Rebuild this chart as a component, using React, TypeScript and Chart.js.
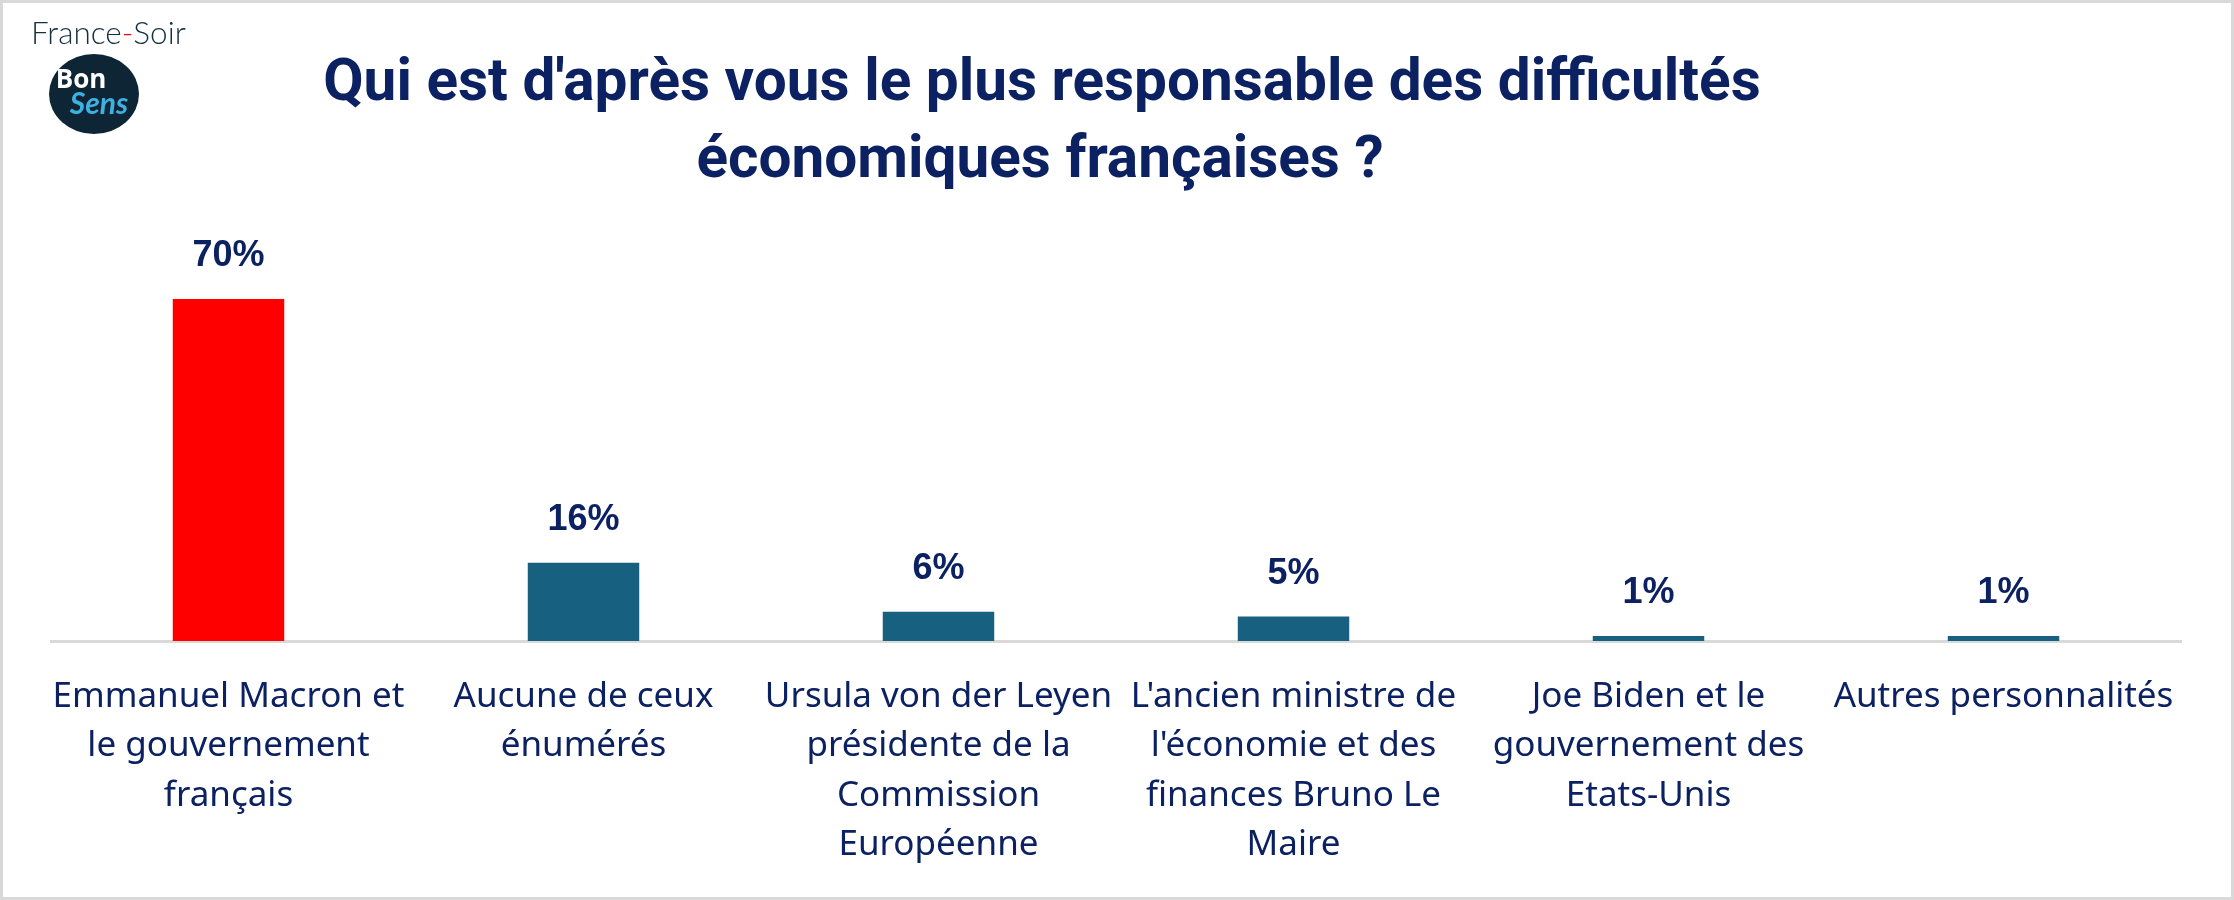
import React, { useEffect, useRef } from "react";
import { Chart, registerables } from "chart.js";

Chart.register(...registerables);

const categories: string[][] = [
  ["Emmanuel Macron et", "le gouvernement", "français"],
  ["Aucune de ceux", "énumérés"],
  ["Ursula von der Leyen", "présidente de la", "Commission", "Européenne"],
  ["L'ancien ministre de", "l'économie et des", "finances Bruno Le", "Maire"],
  ["Joe Biden et le", "gouvernement des", "Etats-Unis"],
  ["Autres personnalités"],
];
const values: number[] = [70, 16, 6, 5, 1, 1];
const barColors: string[] = ["#ff0000", "#17607f", "#17607f", "#17607f", "#17607f", "#17607f"];
const titleLines: string[] = [
  "Qui est d'après vous le plus responsable des difficultés",
  "économiques françaises ?",
];
const NAVY = "#0b2161";

export default function App() {
  const ref = useRef<HTMLCanvasElement>(null);

  useEffect(() => {
    const canvas = ref.current;
    if (!canvas) return;

    const decor = {
      id: "decor",
      beforeDraw(chart: any) {
        const ctx = chart.ctx;
        ctx.save();
        ctx.fillStyle = "#ffffff";
        ctx.fillRect(0, 0, chart.width, chart.height);
        ctx.restore();
      },
      afterDraw(chart: any) {
        const ctx = chart.ctx;
        ctx.save();
        // frame
        ctx.strokeStyle = "#d9d9d9";
        ctx.lineWidth = 3;
        ctx.strokeRect(1.5, 1.5, chart.width - 3, chart.height - 3);

        // title
        ctx.fillStyle = NAVY;
        ctx.font = "bold 58.5px Roboto, 'Liberation Sans', sans-serif";
        ctx.textAlign = "center";
        ctx.textBaseline = "alphabetic";
        ctx.fillText(titleLines[0], 1042, 100);
        ctx.fillText(titleLines[1], 1040, 177);

        // logo: France-Soir
        ctx.textAlign = "left";
        ctx.font = "300 31.5px Lato, 'Open Sans', sans-serif";
        let x = 31;
        const y = 44;
        ctx.fillStyle = "#15303f";
        ctx.fillText("France", x, y);
        x += ctx.measureText("France").width;
        ctx.fillStyle = "#e30613";
        ctx.fillText("-", x, y);
        x += ctx.measureText("-").width;
        ctx.fillStyle = "#15303f";
        ctx.fillText("Soir", x, y);

        // logo: Bon Sens circle
        ctx.beginPath();
        ctx.ellipse(94, 94, 45, 40, 0, 0, Math.PI * 2);
        ctx.fillStyle = "#0e2536";
        ctx.fill();
        ctx.textAlign = "center";
        ctx.fillStyle = "#ffffff";
        ctx.font = "bold 26px 'Open Sans', sans-serif";
        ctx.fillText("Bon", 81, 88);
        ctx.fillStyle = "#3eb1e0";
        ctx.font = "italic bold 30px Lato, sans-serif";
        ctx.fillText("Sens", 99, 114);
        ctx.restore();
      },
    };

    const valueLabels = {
      id: "valueLabels",
      afterDatasetsDraw(chart: any) {
        const ctx = chart.ctx;
        const meta = chart.getDatasetMeta(0);
        ctx.save();
        ctx.fillStyle = NAVY;
        ctx.font = "bold 36px 'Liberation Sans', Arial, sans-serif";
        ctx.textAlign = "center";
        ctx.textBaseline = "alphabetic";
        meta.data.forEach((bar: any, i: number) => {
          ctx.fillText(values[i] + "%", bar.x, bar.y - 33);
        });
        ctx.restore();
      },
    };

    const chart = new Chart(canvas, {
      type: "bar",
      data: {
        labels: categories,
        datasets: [
          {
            data: values,
            backgroundColor: barColors,
            borderWidth: 0,
            barPercentage: 0.314,
            categoryPercentage: 1,
          },
        ],
      },
      options: {
        responsive: false,
        maintainAspectRatio: false,
        animation: false,
        layout: { padding: { left: 51, right: 53, top: 250, bottom: 0 } },
        plugins: {
          legend: { display: false },
          tooltip: { enabled: false },
          title: { display: false },
        },
        scales: {
          x: {
            z: 1,
            grid: { display: false, drawTicks: false },
            border: { display: true, color: "#d9d9d9", width: 3 },
            ticks: {
              color: NAVY,
              font: { family: "'Noto Sans', sans-serif", size: 35, lineHeight: "49.5px" },
              padding: 31,
              maxRotation: 0,
              minRotation: 0,
              autoSkip: false,
            },
            afterFit: (s: any) => {
              s.height = 259;
            },
          },
          y: { display: false, min: 0, max: 80 },
        },
      },
      plugins: [decor, valueLabels],
    } as any);

    return () => chart.destroy();
  }, []);

  return (
    <div style={{ position: "fixed", left: 0, top: 0, width: 2234, height: 900, background: "#fff" }}>
      <canvas ref={ref} width={2234} height={900} style={{ display: "block", width: 2234, height: 900 }} />
    </div>
  );
}
